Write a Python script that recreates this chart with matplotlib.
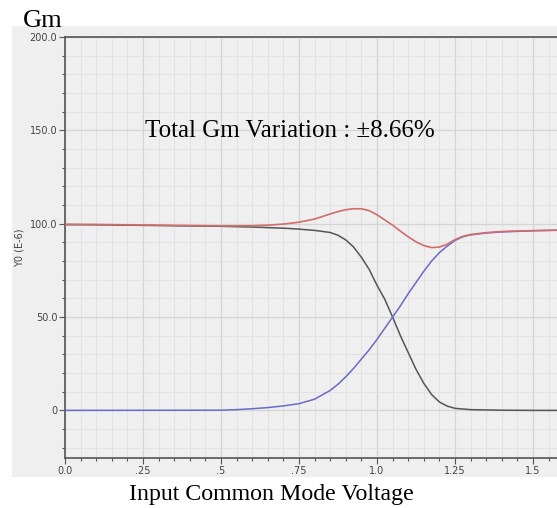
import matplotlib
matplotlib.use("Agg")
import matplotlib.pyplot as plt
from matplotlib.patches import Rectangle
from matplotlib.ticker import MultipleLocator, FixedLocator, FixedFormatter

# ---- data ----
x_black = [0.0, 0.1, 0.2, 0.3, 0.4, 0.5, 0.55, 0.6, 0.65, 0.7, 0.75, 0.8, 0.85, 0.875,
           0.9, 0.925, 0.95, 0.975, 1.0, 1.025, 1.05, 1.075, 1.1, 1.125, 1.15, 1.175,
           1.2, 1.225, 1.25, 1.3, 1.4, 1.5, 1.6]
y_black = [99.5, 99.4, 99.2, 99.0, 98.8, 98.6, 98.4, 98.2, 97.9, 97.6, 97.1, 96.4, 95.3, 93.8,
           91.3, 87.5, 82.0, 75.5, 67.0, 59.5, 50.0, 40.0, 31.0, 22.0, 14.5, 8.5,
           4.5, 2.3, 1.1, 0.4, 0.1, 0.0, 0.0]

x_blue = [0.0, 0.5, 0.55, 0.6, 0.65, 0.7, 0.75, 0.8, 0.85, 0.875, 0.9, 0.925, 0.95, 0.975,
          1.0, 1.025, 1.05, 1.075, 1.1, 1.125, 1.15, 1.175, 1.2, 1.225, 1.25, 1.275,
          1.3, 1.35, 1.4, 1.5, 1.6]
y_blue = [0.0, 0.1, 0.4, 0.9, 1.5, 2.4, 3.6, 6.0, 10.7, 14.0, 18.0, 22.5, 27.5, 32.5,
          38.0, 44.0, 50.0, 56.0, 62.5, 68.5, 74.5, 80.0, 84.5, 88.0, 91.0, 93.0,
          94.0, 95.0, 95.6, 96.2, 96.6]

x_red = [0.0, 0.1, 0.2, 0.3, 0.4, 0.5, 0.55, 0.6, 0.65, 0.7, 0.75, 0.8, 0.85, 0.875,
         0.9, 0.925, 0.95, 0.975, 1.0, 1.025, 1.05, 1.075, 1.1, 1.125, 1.15, 1.175,
         1.2, 1.225, 1.25, 1.275, 1.3, 1.35, 1.4, 1.5, 1.6]
y_red = [99.7, 99.6, 99.4, 99.2, 99.0, 98.8, 98.8, 98.9, 99.2, 99.8, 100.8, 102.5, 105.2, 106.5,
         107.5, 108.0, 108.0, 107.0, 104.8, 102.0, 99.2, 96.0, 93.0, 90.3, 88.3, 87.2,
         87.5, 89.0, 91.5, 93.2, 94.2, 95.2, 95.8, 96.3, 96.6]

x_ticks = [0.0, 0.25, 0.5, 0.75, 1.0, 1.25, 1.5]
x_ticklabels = ["0.0", ".25", ".5", ".75", "1.0", "1.25", "1.5"]
y_ticks = [0, 50, 100, 150, 200]
y_ticklabels = ["0", "50.0", "100.0", "150.0", "200.0"]

W, H = 557, 508
fig = plt.figure(figsize=(W / 100, H / 100), dpi=100)
fig.patch.set_facecolor("white")

# gray panel behind the plot
panel = Rectangle((12 / W, 1 - 477 / H), (W - 12) / W, (477 - 26) / H,
                  transform=fig.transFigure, facecolor="#efefef", edgecolor="none", zorder=-5)
fig.patches.append(panel)

ax = fig.add_axes([65 / W, 50 / H, 1 - 65 / W, (458 - 37) / H])
ax.set_facecolor("#efefef")
ax.set_xlim(0, (W - 65) / 312)
ax.set_ylim(-25.5, 200)

ax.xaxis.set_major_locator(FixedLocator(x_ticks))
ax.xaxis.set_major_formatter(FixedFormatter(x_ticklabels))
ax.xaxis.set_minor_locator(MultipleLocator(0.05))
ax.yaxis.set_major_locator(FixedLocator(y_ticks))
ax.yaxis.set_major_formatter(FixedFormatter(y_ticklabels))
ax.yaxis.set_minor_locator(MultipleLocator(10))

ax.grid(which="major", color="#d4d4d4", linewidth=0.9)
ax.grid(which="minor", color="#e2e2e2", linewidth=0.7)
ax.set_axisbelow(True)

for side in ["left", "bottom", "top"]:
    ax.spines[side].set_color("#555555")
    ax.spines[side].set_linewidth(1.2)
ax.spines["right"].set_visible(False)

ax.tick_params(which="major", direction="out", length=4, width=0.8, color="#555555",
               labelsize=7, labelcolor="#444444", pad=1.5)
ax.tick_params(which="minor", direction="out", length=2, width=0.8, color="#555555")

ax.set_ylabel("Y0 (E-6)", fontsize=7, color="#444444", labelpad=4)

ax.plot(x_black, y_black, color="#555555", linewidth=1.1, zorder=3)
ax.plot(x_blue, y_blue, color="#6a6ac8", linewidth=1.1, zorder=3)
ax.plot(x_red, y_red, color="#d26c6c", linewidth=1.2, zorder=4)

serif = ["Liberation Serif", "DejaVu Serif"]
fig.text(23 / W, 1 - 27 / H, "Gm", fontsize=19, family=serif, ha="left", va="baseline")
fig.text(145 / W, 1 - 137 / H, "Total Gm Variation : \u00b18.66%", fontsize=18,
         family=serif, ha="left", va="baseline")
fig.text(271 / W, 1 - 500 / H, "Input Common Mode Voltage", fontsize=17.2,
         family=serif, ha="center", va="baseline")

fig.savefig("out.png", dpi=100)
